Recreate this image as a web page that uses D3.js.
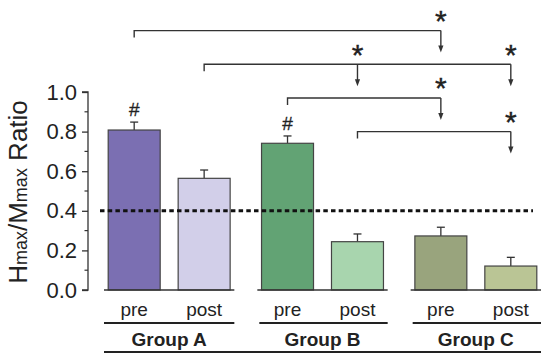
<!DOCTYPE html>
<html><head><meta charset="utf-8">
<script src="https://cdn.jsdelivr.net/npm/d3@7"></script>
<style>body{margin:0;background:#fff}svg{display:block}text{font-family:"Liberation Sans",Arial,sans-serif}</style>
</head><body><svg id="c" width="550" height="364"></svg>
<script>
const groups = ["Group A", "Group B", "Group C"];
const phases = ["pre", "post"];
const means = [[0.808, 0.564], [0.741, 0.244], [0.273, 0.121]];
const errors = [[0.040, 0.042], [0.037, 0.039], [0.044, 0.044]];
const colors = [["#7b6fb2", "#d2cfe9"], ["#62a374", "#a8d5ae"], ["#99a47d", "#bac595"]];
const hashMarks = [[0, 0], [1, 0]]; // [group, phase]
const refLine = 0.4;
const yTicks = [0, 0.2, 0.4, 0.6, 0.8, 1.0];
// brackets: from [g,p], to list of [g,p], level in data units
const brackets = [
  {from: [0, 0], to: [[2, 0]], level: 1.31},
  {from: [0, 1], to: [[1, 1], [2, 1]], level: 1.14},
  {from: [1, 0], to: [[2, 0]], level: 0.97},
  {from: [1, 1], to: [[2, 1]], level: 0.80}
];

const svg = d3.select("#c");
const y = d3.scaleLinear().domain([0, 1]).range([290, 92]);
const gx = d3.scaleBand().domain(groups).range([104, 541]).paddingInner(0.15);
const px = d3.scaleBand().domain(phases).range([0, gx.bandwidth()]).paddingInner(0.257).paddingOuter(0.06);
const cx = (g, p) => gx(groups[g]) + px(phases[p]) + px.bandwidth() / 2;
const ink = "#333";

// y axis
const yAxis = d3.axisLeft(y).tickValues(yTicks).tickFormat(d3.format(".1f")).tickSize(6).tickPadding(5);
const ga = svg.append("g").attr("transform", "translate(88,0)").call(yAxis);
ga.select(".domain").attr("stroke", ink).attr("stroke-width", 1.3).attr("d", `M-6,${y(1)}H0V${y(0)}H-6`);
ga.selectAll(".tick line").attr("stroke", ink).attr("stroke-width", 1.3);
ga.selectAll(".tick text").attr("fill", "#222").style("font-size", "22px");
const minor = d3.range(1, 10, 2).map(i => i / 10);
ga.selectAll(".minor").data(minor).join("line").attr("x1", -3.5).attr("x2", 0)
  .attr("y1", d => y(d)).attr("y2", d => y(d)).attr("stroke", ink).attr("stroke-width", 1.2);

// y label
const yl = svg.append("text").attr("transform", `translate(27,${(y(0) + y(1)) / 2 + 1}) rotate(-90)`)
  .attr("text-anchor", "middle").attr("fill", "#222").style("font-size", "26px");
yl.append("tspan").text("H");
yl.append("tspan").text("max").style("font-size", "18px");
yl.append("tspan").text("/M");
yl.append("tspan").text("max").style("font-size", "18px");
yl.append("tspan").text(" Ratio");

// bars
const flat = [];
means.forEach((row, g) => row.forEach((v, p) => flat.push({g, p, v, e: errors[g][p], c: colors[g][p]})));
const bw = px.bandwidth();
// error bars
flat.forEach(d => {
  const x = cx(d.g, d.p);
  svg.append("line").attr("x1", x).attr("x2", x).attr("y1", y(d.v)).attr("y2", y(d.v + d.e)).attr("stroke", ink).attr("stroke-width", 1.3);
  svg.append("line").attr("x1", x - 4).attr("x2", x + 4).attr("y1", y(d.v + d.e)).attr("y2", y(d.v + d.e)).attr("stroke", ink).attr("stroke-width", 1.3);
});
svg.selectAll(".bar").data(flat).join("rect")
  .attr("x", d => cx(d.g, d.p) - bw / 2).attr("width", bw)
  .attr("y", d => y(d.v)).attr("height", d => y(0) - y(d.v))
  .attr("fill", d => d.c).attr("stroke", "#444").attr("stroke-width", 1.2);

// group baselines
groups.forEach((g, i) => {
  svg.append("line").attr("x1", gx(g)).attr("x2", gx(g) + gx.bandwidth()).attr("y1", y(0)).attr("y2", y(0)).attr("stroke", ink).attr("stroke-width", 1.5);
});

// reference dotted line
svg.append("line").attr("x1", 100).attr("x2", 533).attr("y1", y(refLine)).attr("y2", y(refLine))
  .attr("stroke", "#111").attr("stroke-width", 3).attr("stroke-dasharray", "4.5,3.2");

// hash marks
hashMarks.forEach(([g, p]) => {
  svg.append("text").attr("x", cx(g, p)).attr("y", y(means[g][p] + errors[g][p]) - 6)
    .attr("text-anchor", "middle").attr("fill", "#222").attr("stroke", "#222").attr("stroke-width", 0.3)
    .style("font-size", "19px").text("#");
});

// brackets
const drop = 7, arrowLen = 22;
brackets.forEach(b => {
  const by = y(b.level);
  const x0 = cx(...b.from);
  const xs = b.to.map(t => cx(...t));
  const xe = d3.max(xs);
  svg.append("path").attr("d", `M${x0},${by + drop}V${by}H${xe}`).attr("fill", "none").attr("stroke", ink).attr("stroke-width", 1.4);
  xs.forEach(x => {
    svg.append("line").attr("x1", x).attr("x2", x).attr("y1", by).attr("y2", by + arrowLen - 5).attr("stroke", ink).attr("stroke-width", 1.4);
    svg.append("path").attr("d", `M${x - 2.6},${by + arrowLen - 7}L${x + 2.6},${by + arrowLen - 7}L${x},${by + arrowLen}Z`).attr("fill", ink);
    svg.append("text").attr("x", x).attr("y", by + 0.5).attr("text-anchor", "middle").attr("fill", "#222")
      .attr("stroke", "#222").attr("stroke-width", 0.4).style("font-size", "30px").text("*");
  });
});

// x labels
flat.forEach(d => {
  svg.append("text").attr("x", cx(d.g, d.p)).attr("y", 316).attr("text-anchor", "middle")
    .attr("fill", "#222").style("font-size", "19px").text(phases[d.p]);
});
groups.forEach((g, i) => {
  svg.append("line").attr("x1", gx(g) + (i ? 2 : 0)).attr("x2", gx(g) + gx.bandwidth()).attr("y1", 323).attr("y2", 323).attr("stroke", "#222").attr("stroke-width", 2.2);
  svg.append("text").attr("x", gx(g) + gx.bandwidth() / 2).attr("y", 346).attr("text-anchor", "middle")
    .attr("fill", "#222").style("font-size", "19px").style("font-weight", "bold").text(g);
});
svg.append("line").attr("x1", gx.range()[0]).attr("x2", gx.range()[1]).attr("y1", 352).attr("y2", 352).attr("stroke", "#222").attr("stroke-width", 2.2);
</script></body></html>
